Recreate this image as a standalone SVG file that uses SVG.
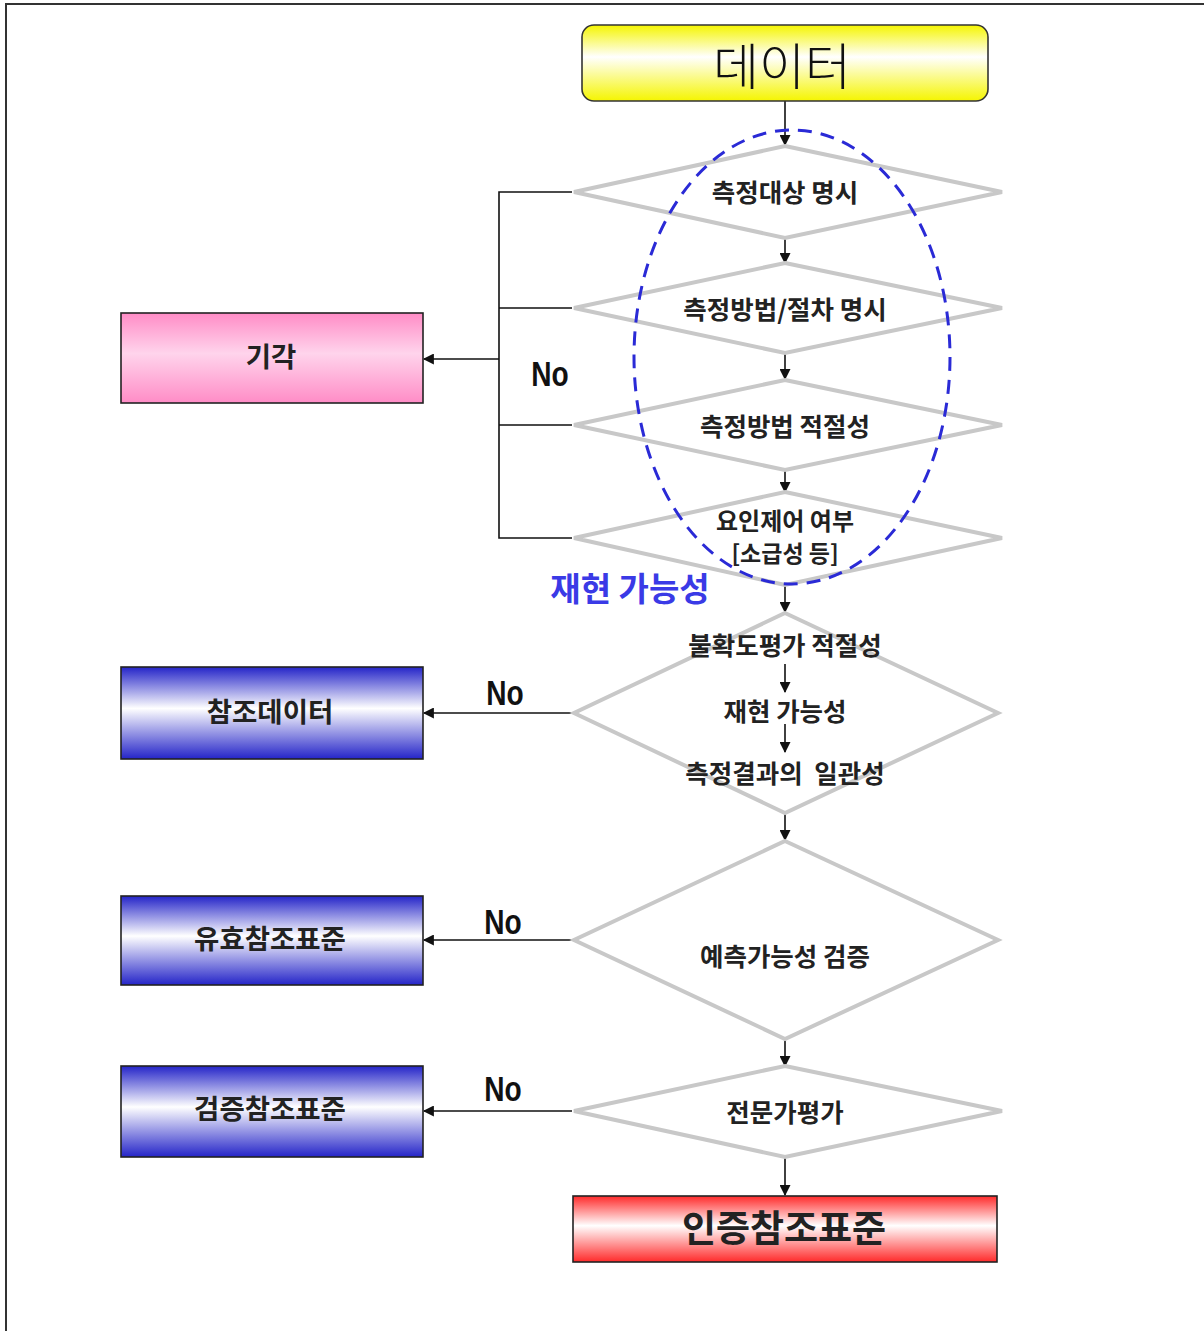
<svg xmlns="http://www.w3.org/2000/svg" width="1204" height="1331" viewBox="0 0 1204 1331">
<style>
.dia{fill:#fff;stroke:#c8c8c8;stroke-width:4}
.box{stroke:#222;stroke-width:1.6}
.t{font-family:"Noto Sans CJK KR","Noto Sans",sans-serif;font-weight:bold;fill:#222;text-anchor:middle}
.dt{font-size:25.5px}
.bt{font-size:27.5px}
.no{font-family:"Liberation Sans",sans-serif;font-weight:bold;font-size:36px;fill:#111;text-anchor:middle}
.ln{stroke:#111;stroke-width:1.6;fill:none}
.ar{stroke:#111;stroke-width:1.6;fill:none;marker-end:url(#ah)}
</style>
<defs>
<marker id="ah" viewBox="0 0 10 10" refX="9" refY="5" markerWidth="13" markerHeight="11" markerUnits="userSpaceOnUse" orient="auto">
<path d="M0,0 L10,5 L0,10 z" fill="#111"/>
</marker>
<marker id="ah2" viewBox="0 0 10 10" refX="9" refY="5" markerWidth="16" markerHeight="12" markerUnits="userSpaceOnUse" orient="auto">
<path d="M0,0 L10,5 L0,10 z" fill="#111"/>
</marker>
<linearGradient id="gy" x1="0" y1="0" x2="0" y2="1">
<stop offset="0" stop-color="#f5f500"/><stop offset="0.42" stop-color="#ffffff"/><stop offset="1" stop-color="#f5f500"/>
</linearGradient>
<linearGradient id="gp" x1="0" y1="0" x2="0" y2="1">
<stop offset="0" stop-color="#ff8cc6"/><stop offset="0.45" stop-color="#ffd4ec"/><stop offset="1" stop-color="#ff8cc6"/>
</linearGradient>
<linearGradient id="gb" x1="0" y1="0" x2="0" y2="1">
<stop offset="0" stop-color="#2424c8"/><stop offset="0.45" stop-color="#ffffff"/><stop offset="1" stop-color="#2424c8"/>
</linearGradient>
<linearGradient id="gr" x1="0" y1="0" x2="0" y2="1">
<stop offset="0" stop-color="#ff2a2a"/><stop offset="0.45" stop-color="#ffffff"/><stop offset="1" stop-color="#ff2a2a"/>
</linearGradient>
</defs>
<rect x="0" y="0" width="1204" height="1331" fill="#fff"/>
<path d="M6,1331 L6,4 L1204,4" fill="none" stroke="#333" stroke-width="2"/>

<g id="connectors">
<line class="ar" x1="785" y1="101" x2="785" y2="145"/>
<line class="ar" x1="785" y1="239" x2="785" y2="263"/>
<line class="ar" x1="785" y1="354" x2="785" y2="379"/>
<line class="ar" x1="785" y1="471" x2="785" y2="492"/>
<line class="ar" x1="785" y1="586" x2="785" y2="612"/>
<line class="ar" x1="785" y1="814" x2="785" y2="840"/>
<line class="ar" x1="785" y1="1041" x2="785" y2="1066"/>
<line class="ar" x1="785" y1="1158" x2="785" y2="1195"/>
<path class="ln" d="M572,192 L499,192 L499,538 L572,538 M499,308 L572,308 M499,425 L572,425"/>
<line class="ar" x1="499" y1="359" x2="424" y2="359" marker-end="url(#ah2)"/>
<line class="ar" x1="572" y1="713" x2="424" y2="713" marker-end="url(#ah2)"/>
<line class="ar" x1="572" y1="940" x2="424" y2="940" marker-end="url(#ah2)"/>
<line class="ar" x1="572" y1="1111" x2="424" y2="1111" marker-end="url(#ah2)"/>
</g>

<g id="n-data">
<rect x="582" y="25" width="406" height="76" rx="12" fill="url(#gy)" stroke="#333" stroke-width="1.6"/>
<text x="782" y="85" font-family="'Noto Sans CJK KR',sans-serif" font-weight="300" font-size="50" fill="#111" text-anchor="middle">데이터</text>
</g>

<g id="d1">
<polygon class="dia" points="785,146 1002,192 785,238 574,192"/>
<text class="t dt" x="785" y="202">측정대상 명시</text>
</g>
<g id="d2">
<polygon class="dia" points="785,263 1002,308 785,353 574,308"/>
<text class="t dt" x="785" y="319">측정방법/절차 명시</text>
</g>
<g id="d3">
<polygon class="dia" points="785,380 1002,425 785,470 574,425"/>
<text class="t dt" x="785" y="436">측정방법 적절성</text>
</g>
<g id="d4">
<polygon class="dia" points="785,492 1002,538 785,585 574,538"/>
<text class="t" x="785" y="530" font-size="24">요인제어 여부</text>
<text class="t" x="785" y="562" font-size="23" font-weight="normal">[소급성 등]</text>
</g>

<ellipse id="reproducibility-group" cx="792" cy="357" rx="158" ry="227" fill="none" stroke="#2a2ad6" stroke-width="3" stroke-dasharray="14,9"/>
<text id="lbl-repro" x="630" y="601" font-family="'Noto Sans CJK KR',sans-serif" font-weight="bold" font-size="33" fill="#3a3ae6" text-anchor="middle">재현 가능성</text>

<g id="n-reject">
<rect class="box" x="121" y="313" width="302" height="90" fill="url(#gp)"/>
<text class="t bt" x="271" y="367">기각</text>
</g>
<text class="no" transform="translate(550,386) scale(0.78,1)">No</text>

<g id="d5">
<polygon class="dia" points="785,613 998,713 785,813 574,713"/>
<text class="t dt" x="785" y="655">불확도평가 적절성</text>
<line class="ar" x1="785" y1="664" x2="785" y2="692"/>
<text class="t dt" x="785" y="721">재현 가능성</text>
<line class="ar" x1="785" y1="724" x2="785" y2="752"/>
<text class="t dt" x="785" y="783" xml:space="preserve">측정결과의  일관성</text>
</g>

<g id="n-refdata">
<rect class="box" x="121" y="667" width="302" height="92" fill="url(#gb)"/>
<text class="t bt" x="270" y="722">참조데이터</text>
</g>
<text class="no" transform="translate(505,705) scale(0.78,1)">No</text>

<g id="d6">
<polygon class="dia" points="785,841 998,940 785,1039 574,940"/>
<text class="t dt" x="785" y="966">예측가능성 검증</text>
</g>

<g id="n-valid">
<rect class="box" x="121" y="896" width="302" height="89" fill="url(#gb)"/>
<text class="t bt" x="270" y="949">유효참조표준</text>
</g>
<text class="no" transform="translate(503,934) scale(0.78,1)">No</text>

<g id="d7">
<polygon class="dia" points="785,1066 1002,1111 785,1157 574,1111"/>
<text class="t dt" x="785" y="1122">전문가평가</text>
</g>

<g id="n-verify">
<rect class="box" x="121" y="1066" width="302" height="91" fill="url(#gb)"/>
<text class="t bt" x="270" y="1119">검증참조표준</text>
</g>
<text class="no" transform="translate(503,1101) scale(0.78,1)">No</text>

<g id="n-certified">
<rect class="box" x="573" y="1196" width="424" height="66" fill="url(#gr)"/>
<text class="t" x="784" y="1242" font-size="37" font-weight="900" fill="#111">인증참조표준</text>
</g>
</svg>
